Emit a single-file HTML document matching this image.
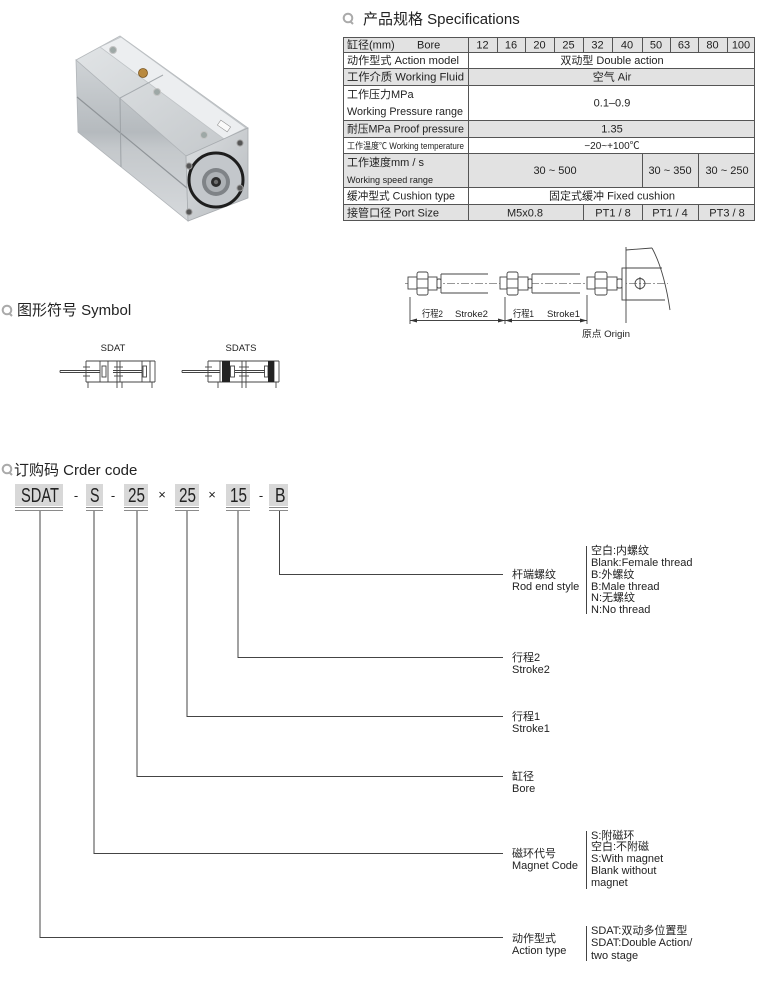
<!DOCTYPE html>
<html><head><meta charset="utf-8"><style>
html,body{margin:0;padding:0;background:#fff;}
svg{display:block;}
text{font-family:"Liberation Sans","Noto Sans CJK SC",sans-serif;fill:#222;}
</style></head><body>
<svg width="765" height="986" viewBox="0 0 765 986" xmlns="http://www.w3.org/2000/svg">
<defs>
<linearGradient id="gTop" x1="0" y1="0" x2="1" y2="1"><stop offset="0" stop-color="#e2e5e7"/><stop offset="1" stop-color="#c3c7ca"/></linearGradient>
<linearGradient id="gSide" x1="0" y1="0" x2="0" y2="1"><stop offset="0" stop-color="#cfd3d6"/><stop offset="0.45" stop-color="#b5babe"/><stop offset="0.55" stop-color="#c4c8cb"/><stop offset="1" stop-color="#d6d9dc"/></linearGradient>
<linearGradient id="gEnd" x1="0" y1="0" x2="1" y2="1"><stop offset="0" stop-color="#dcdfe1"/><stop offset="1" stop-color="#b7bbbf"/></linearGradient>
</defs>

<!-- ===== Product image ===== -->
<polygon points="76,60 120,36 248,128 186,156" fill="url(#gTop)" stroke="#b5b9bc" stroke-width="0.8"/>
<polygon points="100,47 121,37 246,128 224,139" fill="#eceef0" stroke="#bfc3c6" stroke-width="0.8"/>
<polygon points="76,60 186,156 188,221 78,132" fill="url(#gSide)" stroke="#b0b4b8" stroke-width="0.8"/>
<line x1="77" y1="97" x2="187" y2="188" stroke="#8f9498" stroke-width="1.2"/>
<line x1="120" y1="98" x2="121" y2="167" stroke="#9ea3a7" stroke-width="1"/>
<line x1="120" y1="98" x2="163" y2="75" stroke="#a5aaae" stroke-width="1"/>
<polygon points="186,156 248,128 248,198 188,221" fill="url(#gEnd)" stroke="#a8acb0" stroke-width="0.8"/>
<ellipse cx="216" cy="180" rx="27" ry="27" fill="#c3c7cb" stroke="#1e1e1e" stroke-width="3"/>
<circle cx="216" cy="182" r="14" fill="#7f8387"/>
<circle cx="216" cy="182" r="10" fill="#adb1b5"/>
<circle cx="216" cy="182" r="5" fill="#2c2c2c"/>
<circle cx="216" cy="182" r="2.2" fill="#6d6d6d"/>
<circle cx="189" cy="166" r="3" fill="#555" stroke="#999"/>
<circle cx="240" cy="143" r="3" fill="#555" stroke="#999"/>
<circle cx="240" cy="188" r="3" fill="#555" stroke="#999"/>
<circle cx="189" cy="212" r="3" fill="#555" stroke="#999"/>
<circle cx="113" cy="50" r="3.5" fill="#9ea8a6" stroke="#c4c4c4"/>
<circle cx="157" cy="92" r="3.5" fill="#9ea8a6" stroke="#c4c4c4"/>
<circle cx="204" cy="135" r="3.5" fill="#9ea8a6" stroke="#c4c4c4"/>
<circle cx="143" cy="73" r="4.5" fill="#b98a40" stroke="#7a5520" stroke-width="0.8"/>
<rect x="218" y="123" width="12" height="6" fill="#fafafa" stroke="#888" stroke-width="0.5" transform="rotate(35 224 126)"/>

<!-- ===== Specifications heading ===== -->
<circle cx="348" cy="18" r="4.3" fill="none" stroke="#aaa" stroke-width="2"/>
<line x1="350" y1="21" x2="353" y2="24" stroke="#aaa" stroke-width="2"/>
<text x="363" y="24" font-size="15" fill="#222">产品规格 Specifications</text>

<!-- ===== Table ===== -->
<rect x="343" y="37" width="412" height="15" fill="#e2e2e2"/>
<rect x="343" y="68" width="412" height="17" fill="#e2e2e2"/>
<rect x="343" y="120" width="412" height="17" fill="#e2e2e2"/>
<rect x="343" y="153" width="412" height="34" fill="#e2e2e2"/>
<rect x="343" y="204" width="412" height="17" fill="#e2e2e2"/>
<g stroke="#555" stroke-width="1" fill="none">
<rect x="343.5" y="37.5" width="411" height="183"/>
<line x1="343" y1="52.5" x2="755" y2="52.5"/>
<line x1="343" y1="68.5" x2="755" y2="68.5"/>
<line x1="343" y1="85.5" x2="755" y2="85.5"/>
<line x1="343" y1="120.5" x2="755" y2="120.5"/>
<line x1="343" y1="137.5" x2="755" y2="137.5"/>
<line x1="343" y1="153.5" x2="755" y2="153.5"/>
<line x1="343" y1="187.5" x2="755" y2="187.5"/>
<line x1="343" y1="204.5" x2="755" y2="204.5"/>
<line x1="468.5" y1="37" x2="468.5" y2="221"/>
<line x1="497.5" y1="37" x2="497.5" y2="52"/>
<line x1="525.5" y1="37" x2="525.5" y2="52"/>
<line x1="554.5" y1="37" x2="554.5" y2="52"/>
<line x1="583.5" y1="37" x2="583.5" y2="52"/>
<line x1="612.5" y1="37" x2="612.5" y2="52"/>
<line x1="642.5" y1="37" x2="642.5" y2="52"/>
<line x1="670.5" y1="37" x2="670.5" y2="52"/>
<line x1="698.5" y1="37" x2="698.5" y2="52"/>
<line x1="727.5" y1="37" x2="727.5" y2="52"/>
<line x1="642.5" y1="153" x2="642.5" y2="187"/>
<line x1="698.5" y1="153" x2="698.5" y2="187"/>
<line x1="583.5" y1="204" x2="583.5" y2="221"/>
<line x1="642.5" y1="204" x2="642.5" y2="221"/>
<line x1="698.5" y1="204" x2="698.5" y2="221"/>
</g>
<g font-size="11">
<text x="347" y="48.5">缸径(mm)</text>
<text x="417" y="48.5">Bore</text>
<text x="347" y="64" textLength="112" lengthAdjust="spacingAndGlyphs">动作型式 Action model</text>
<text x="347" y="80.5" textLength="117" lengthAdjust="spacingAndGlyphs">工作介质 Working Fluid</text>
<text x="347" y="98">工作压力MPa</text>
<text x="347" y="115" textLength="116" lengthAdjust="spacingAndGlyphs">Working Pressure range</text>
<text x="347" y="132.5" textLength="117" lengthAdjust="spacingAndGlyphs">耐压MPa Proof pressure</text>
<text x="347" y="149" font-size="9" textLength="117" lengthAdjust="spacingAndGlyphs">工作温度℃ Working temperature</text>
<text x="347" y="166">工作速度mm / s</text>
<text x="347" y="183" font-size="9" textLength="86" lengthAdjust="spacingAndGlyphs">Working speed range</text>
<text x="347" y="199.5" textLength="108" lengthAdjust="spacingAndGlyphs">缓冲型式 Cushion type</text>
<text x="347" y="216.5" textLength="92" lengthAdjust="spacingAndGlyphs">接管口径 Port Size</text>
</g>
<g font-size="11" text-anchor="middle">
<text x="482.5" y="48.5">12</text>
<text x="511" y="48.5">16</text>
<text x="539.5" y="48.5">20</text>
<text x="568.5" y="48.5">25</text>
<text x="597.5" y="48.5">32</text>
<text x="627" y="48.5">40</text>
<text x="656" y="48.5">50</text>
<text x="684" y="48.5">63</text>
<text x="712.5" y="48.5">80</text>
<text x="741" y="48.5">100</text>
<text x="612" y="64">双动型 Double action</text>
<text x="612" y="80.5">空气 Air</text>
<text x="612" y="106.5">0.1–0.9</text>
<text x="612" y="132.5">1.35</text>
<text x="612" y="149" font-size="10" fill="#555">−20~+100℃</text>
<text x="555" y="174">30 ~ 500</text>
<text x="670" y="174">30 ~ 350</text>
<text x="727" y="174">30 ~ 250</text>
<text x="612" y="199.5">固定式缓冲 Fixed cushion</text>
<text x="525" y="216.5">M5x0.8</text>
<text x="613" y="216.5">PT1 / 8</text>
<text x="670" y="216.5">PT1 / 4</text>
<text x="727" y="216.5">PT3 / 8</text>
</g>

<!-- ===== Stroke diagram ===== -->
<line x1="405" y1="283.5" x2="668" y2="283.5" stroke="#777" stroke-width="0.8" stroke-dasharray="8 2 2 2"/>
<g stroke="#444" stroke-width="0.9" fill="#fff">
<rect x="408" y="277" width="9" height="12"/>
<rect x="417" y="272" width="11" height="23" rx="2"/>
<line x1="417" y1="279" x2="428" y2="279"/><line x1="417" y1="288" x2="428" y2="288"/>
<rect x="428" y="277" width="9" height="13"/>
<rect x="437" y="279" width="4" height="9" rx="1.5"/>
<line x1="441" y1="274" x2="488" y2="274"/><line x1="441" y1="293" x2="488" y2="293"/>
<line x1="441" y1="274" x2="441" y2="293"/>
<rect x="500" y="277" width="7" height="12"/>
<rect x="507" y="272" width="11" height="23" rx="2"/>
<line x1="507" y1="279" x2="518" y2="279"/><line x1="507" y1="288" x2="518" y2="288"/>
<rect x="518" y="277" width="10" height="13"/>
<rect x="528" y="279" width="4" height="9" rx="1.5"/>
<line x1="532" y1="274" x2="580" y2="274"/><line x1="532" y1="293" x2="580" y2="293"/>
<line x1="532" y1="274" x2="532" y2="293"/>
<rect x="587" y="277" width="8" height="12"/>
<rect x="595" y="272" width="12" height="23" rx="2"/>
<line x1="595" y1="279" x2="607" y2="279"/><line x1="595" y1="288" x2="607" y2="288"/>
<rect x="607" y="277" width="10" height="13"/>
<rect x="617" y="279" width="5" height="9" rx="1.5"/>
<rect x="622" y="268" width="4" height="32"/>
</g>
<g stroke="#444" stroke-width="0.9" fill="none">
<line x1="626" y1="247" x2="626" y2="323"/>
<line x1="626" y1="250" x2="652" y2="248"/>
<path d="M652,248 Q664,270 670,310"/>
<line x1="626" y1="268" x2="662" y2="268"/>
<line x1="626" y1="300" x2="665" y2="300"/>
<circle cx="640" cy="283.5" r="5"/>
<line x1="640" y1="277" x2="640" y2="290"/>
<line x1="410" y1="297" x2="410" y2="324"/>
<line x1="505" y1="297" x2="505" y2="324"/>
<line x1="587" y1="295" x2="587" y2="324"/>
<line x1="410" y1="320.5" x2="587" y2="320.5"/>
</g>
<g fill="#333">
<polygon points="410,320.5 417,318.5 417,322.5"/>
<polygon points="505,320.5 498,318.5 498,322.5"/>
<polygon points="505,320.5 512,318.5 512,322.5"/>
<polygon points="587,320.5 580,318.5 580,322.5"/>
</g>
<g font-size="9.5">
<text x="422" y="317" textLength="21" lengthAdjust="spacingAndGlyphs">行程2</text>
<text x="455" y="317" textLength="33" lengthAdjust="spacingAndGlyphs">Stroke2</text>
<text x="513" y="317" textLength="21" lengthAdjust="spacingAndGlyphs">行程1</text>
<text x="547" y="317" textLength="33" lengthAdjust="spacingAndGlyphs">Stroke1</text>
<text x="582" y="337" textLength="48" lengthAdjust="spacingAndGlyphs">原点 Origin</text>
</g>

<!-- ===== Symbol heading ===== -->
<circle cx="7" cy="310" r="4.3" fill="none" stroke="#aaa" stroke-width="2"/>
<line x1="9" y1="313" x2="12" y2="316" stroke="#aaa" stroke-width="2"/>
<text x="17" y="315" font-size="15">图形符号 Symbol</text>

<text x="113" y="351" font-size="9.5" text-anchor="middle">SDAT</text>
<text x="241" y="351" font-size="9.5" text-anchor="middle">SDATS</text>

<g stroke="#444" stroke-width="0.9" fill="none">
<line x1="86" y1="361" x2="155" y2="361"/>
<line x1="86" y1="382" x2="155" y2="382"/>
<line x1="86" y1="361" x2="86" y2="382"/>
<line x1="150" y1="361" x2="150" y2="382"/>
<line x1="155" y1="361" x2="155" y2="382"/>
<line x1="117" y1="361" x2="117" y2="382"/>
<line x1="120" y1="361" x2="120" y2="382"/>
<line x1="60" y1="370.5" x2="100" y2="370.5"/>
<line x1="60" y1="372.5" x2="100" y2="372.5"/>
<line x1="60" y1="370.5" x2="60" y2="372.5"/>
<line x1="83" y1="367" x2="90" y2="367"/>
<line x1="83" y1="376" x2="90" y2="376"/>
<line x1="100" y1="361" x2="100" y2="382"/>
<rect x="102" y="366" width="4" height="11"/>
<line x1="108" y1="361" x2="108" y2="382"/>
<line x1="113" y1="370.5" x2="142" y2="370.5"/>
<line x1="113" y1="372.5" x2="142" y2="372.5"/>
<line x1="114" y1="367" x2="123" y2="367"/>
<line x1="114" y1="376" x2="123" y2="376"/>
<line x1="142" y1="361" x2="142" y2="382"/>
<rect x="143" y="366" width="3.5" height="11"/>
<line x1="88" y1="382" x2="88" y2="388"/>
<line x1="117" y1="382" x2="117" y2="388"/>
<line x1="122" y1="382" x2="122" y2="388"/>
<line x1="152" y1="382" x2="152" y2="388"/>
</g>

<g stroke="#444" stroke-width="0.9" fill="none">
<line x1="208" y1="361" x2="279" y2="361"/>
<line x1="208" y1="382" x2="279" y2="382"/>
<line x1="208" y1="361" x2="208" y2="382"/>
<line x1="274" y1="361" x2="274" y2="382"/>
<line x1="279" y1="361" x2="279" y2="382"/>
<line x1="242" y1="361" x2="242" y2="382"/>
<line x1="246" y1="361" x2="246" y2="382"/>
<line x1="182" y1="370.5" x2="220" y2="370.5"/>
<line x1="182" y1="372.5" x2="220" y2="372.5"/>
<line x1="182" y1="370.5" x2="182" y2="372.5"/>
<line x1="205" y1="367" x2="212" y2="367"/>
<line x1="205" y1="376" x2="212" y2="376"/>
<line x1="220" y1="361" x2="220" y2="382"/>
<rect x="230.5" y="366" width="4" height="11"/>
<line x1="235" y1="370.5" x2="265" y2="370.5"/>
<line x1="235" y1="372.5" x2="265" y2="372.5"/>
<line x1="239" y1="367" x2="249" y2="367"/>
<line x1="239" y1="376" x2="249" y2="376"/>
<rect x="264.5" y="366" width="3.5" height="11"/>
<line x1="218" y1="382" x2="218" y2="388"/>
<line x1="242" y1="382" x2="242" y2="388"/>
<line x1="246" y1="382" x2="246" y2="388"/>
<line x1="276" y1="382" x2="276" y2="388"/>
</g>
<rect x="222" y="361" width="8" height="21" fill="#222"/>
<rect x="268" y="361" width="6" height="21" fill="#222"/>

<!-- ===== Order code heading ===== -->
<circle cx="7" cy="469" r="4.3" fill="none" stroke="#aaa" stroke-width="2"/>
<line x1="9" y1="472" x2="12" y2="475" stroke="#aaa" stroke-width="2"/>
<text x="14" y="475" font-size="15">订购码 Crder code</text>

<g fill="#d8d8d8">
<rect x="15" y="484" width="48" height="22"/>
<rect x="86" y="484" width="17" height="22"/>
<rect x="124" y="484" width="24" height="22"/>
<rect x="175" y="484" width="24" height="22"/>
<rect x="226" y="484" width="24" height="22"/>
<rect x="269" y="484" width="19" height="22"/>
</g>
<g stroke="#8a8a8a" stroke-width="1">
<line x1="15" y1="507.5" x2="63" y2="507.5"/><line x1="15" y1="510.5" x2="63" y2="510.5"/>
<line x1="86" y1="507.5" x2="103" y2="507.5"/><line x1="86" y1="510.5" x2="103" y2="510.5"/>
<line x1="124" y1="507.5" x2="148" y2="507.5"/><line x1="124" y1="510.5" x2="148" y2="510.5"/>
<line x1="175" y1="507.5" x2="199" y2="507.5"/><line x1="175" y1="510.5" x2="199" y2="510.5"/>
<line x1="226" y1="507.5" x2="250" y2="507.5"/><line x1="226" y1="510.5" x2="250" y2="510.5"/>
<line x1="269" y1="507.5" x2="288" y2="507.5"/><line x1="269" y1="510.5" x2="288" y2="510.5"/>
</g>
<g font-size="20" style="fill:#333">
<text x="21" y="502" textLength="38" lengthAdjust="spacingAndGlyphs">SDAT</text>
<text x="90" y="502" textLength="9.5" lengthAdjust="spacingAndGlyphs">S</text>
<text x="128" y="502" textLength="17" lengthAdjust="spacingAndGlyphs">25</text>
<text x="179" y="502" textLength="17" lengthAdjust="spacingAndGlyphs">25</text>
<text x="230" y="502" textLength="17" lengthAdjust="spacingAndGlyphs">15</text>
<text x="275" y="502" textLength="10.5" lengthAdjust="spacingAndGlyphs">B</text>
</g>
<g font-size="13" text-anchor="middle" fill="#333">
<text x="76" y="500">-</text>
<text x="113" y="500">-</text>
<text x="162" y="499">×</text>
<text x="212" y="499">×</text>
<text x="261" y="500">-</text>
</g>

<g stroke="#444" stroke-width="1" fill="none">
<polyline points="40,511 40,937.5 503,937.5"/>
<polyline points="94,511 94,853.5 503,853.5"/>
<polyline points="137,511 137,776.5 503,776.5"/>
<polyline points="187,511 187,716.5 503,716.5"/>
<polyline points="238,511 238,657.5 503,657.5"/>
<polyline points="279.5,511 279.5,574.5 503,574.5"/>
<line x1="586.5" y1="546" x2="586.5" y2="614"/>
<line x1="586.5" y1="831" x2="586.5" y2="889"/>
<line x1="586.5" y1="926" x2="586.5" y2="961"/>
</g>

<g font-size="11" fill="#1a1a1a">
<text x="512" y="578">杆端螺纹</text>
<text x="512" y="590">Rod end style</text>
<text x="591" y="554">空白:内螺纹</text>
<text x="591" y="566">Blank:Female thread</text>
<text x="591" y="578">B:外螺纹</text>
<text x="591" y="590">B:Male thread</text>
<text x="591" y="601">N:无螺纹</text>
<text x="591" y="613">N:No thread</text>

<text x="512" y="661">行程2</text>
<text x="512" y="673">Stroke2</text>
<text x="512" y="720">行程1</text>
<text x="512" y="732">Stroke1</text>
<text x="512" y="780">缸径</text>
<text x="512" y="792">Bore</text>

<text x="512" y="857">磁环代号</text>
<text x="512" y="869">Magnet Code</text>
<text x="591" y="839">S:附磁环</text>
<text x="591" y="850">空白:不附磁</text>
<text x="591" y="862">S:With magnet</text>
<text x="591" y="874">Blank without</text>
<text x="591" y="886">magnet</text>

<text x="512" y="942">动作型式</text>
<text x="512" y="954">Action type</text>
<text x="591" y="934">SDAT:双动多位置型</text>
<text x="591" y="946">SDAT:Double Action/</text>
<text x="591" y="959">two stage</text>
</g>
</svg>
</body></html>
